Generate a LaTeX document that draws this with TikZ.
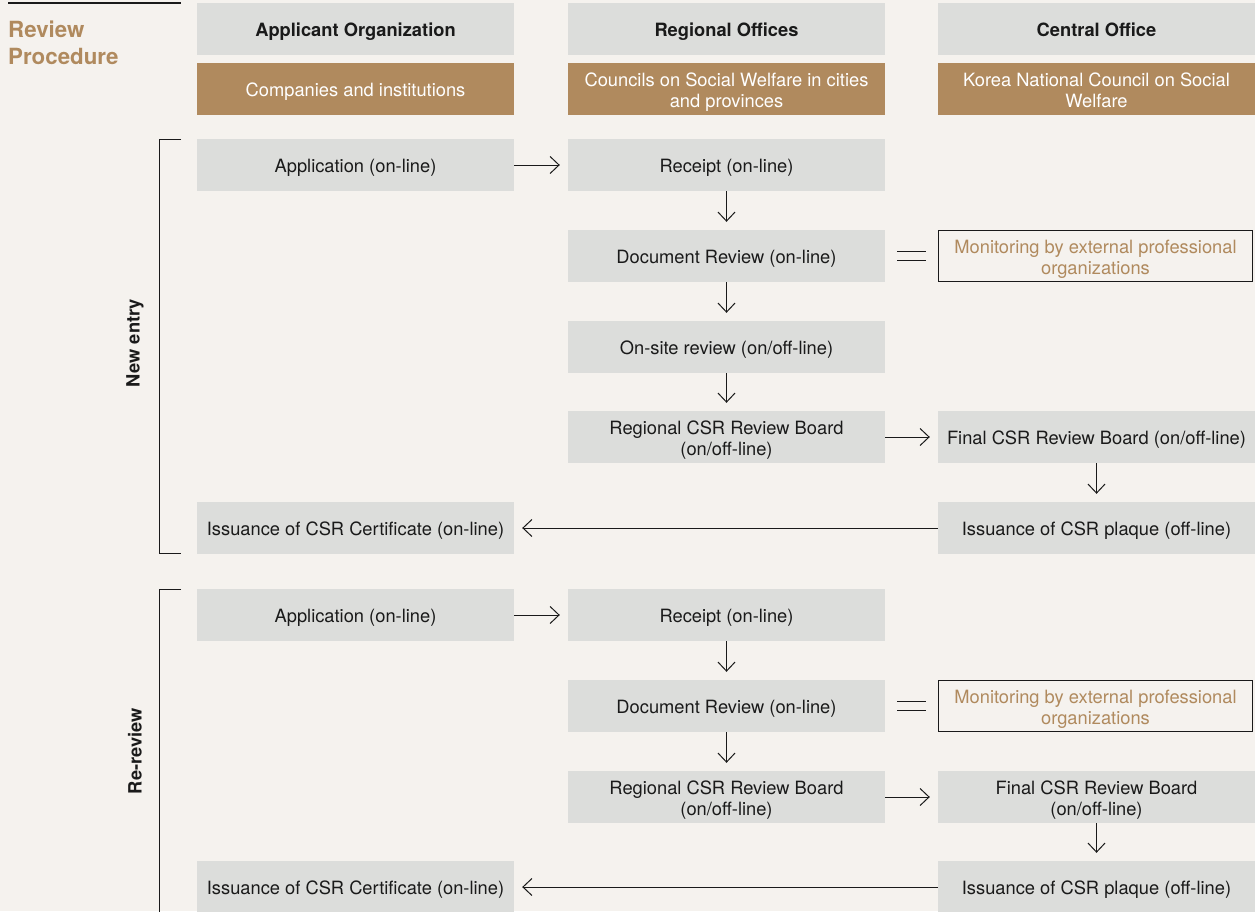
\documentclass[tikz,border=0pt]{standalone}
\usepackage{fontspec}
\setmainfont{TeX Gyre Heros}
\usetikzlibrary{arrows.meta}
\definecolor{bg}{HTML}{F5F2EE}
\definecolor{greybox}{HTML}{DCDDDB}
\definecolor{tanc}{HTML}{B08A5E}
\definecolor{ink}{HTML}{1A1A1A}
\newcommand{\topstrut}{\rule{0pt}{19pt}}
\newcommand{\botstrut}{\rule[-5pt]{0pt}{5pt}}
\begin{document}
\begin{tikzpicture}[x=1pt,y=-1pt,
  boxtext/.style={align=center, font=\fontsize{18.3}{21}\selectfont,
    execute at begin node=\topstrut, execute at end node=\botstrut},
  box/.style={boxtext, fill=greybox, minimum width=317pt, minimum height=52pt, inner sep=0pt, text=ink},
  tanbox/.style={box, fill=tanc, text=white},
  monbox/.style={draw=ink, line width=1.1pt, fill=bg, minimum width=314pt, minimum height=51pt, inner sep=0pt},
  twotext/.style={align=center, font=\fontsize{18.3}{21}\selectfont, inner sep=0pt, text=ink},
  arr/.style={draw=ink, line width=1pt, -{Straight Barb[length=9pt,width=17pt,line width=1pt]}},
  eqline/.style={draw=ink, line width=1pt},
  brk/.style={draw=ink, line width=1.3pt},
  side/.style={rotate=90, font=\fontsize{18.3}{21}\selectfont\bfseries, text=ink},
  titletext/.style={anchor=base west, inner sep=0pt, text=tanc, font=\fontsize{22.3}{27}\selectfont\bfseries}
]
\useasboundingbox (0,0) rectangle (1255,911);
\fill[bg] (0,0) rectangle (1255,911);
\clip (0,0) rectangle (1255,911);

% title
\coordinate (tl0) at (8,3);
\coordinate (tl1) at (181,3);
\draw[draw=ink, line width=1.2pt] (tl0) -- (tl1);
\node[titletext] (title1) at (8,37.5) {Review};
\node[titletext] (title2) at (8,64) {Procedure};

% headers
\node[box] (h1) at (355.5,29) {\bfseries Applicant Organization};
\node[box] (h2) at (726.5,29) {\bfseries Regional Offices};
\node[box] (h3) at (1096.5,29) {\bfseries Central Office};
\node[tanbox] (t1) at (355.5,89) {Companies and institutions};
\node[tanbox] (t2) at (726.5,89) {};
\node[twotext, text=white] (t2t) at ([yshift=-3pt]t2.center) {Councils on Social Welfare in cities\\and provinces};
\node[tanbox] (t3) at (1096.5,89) {};
\node[twotext, text=white] (t3t) at ([yshift=-1pt]t3.center) {Korea National Council on Social\\Welfare};

% new entry
\node[box] (a1) at (355.5,165) {Application (on-line)};
\node[box] (r1) at (726.5,165) {Receipt (on-line)};
\node[box] (d1) at (726.5,256) {Document Review (on-line)};
\node[monbox] (m1) at (1095.5,256) {};
\node[twotext, text=tanc] (m1t) at ([yshift=-3pt]m1.center) {Monitoring by external professional\\organizations};
\node[box] (o1) at (726.5,347) {On-site review (on/off-line)};
\node[box] (g1) at (726.5,437) {};
\node[twotext] (g1t) at ([yshift=-3pt]g1.center) {Regional CSR Review Board\\(on/off-line)};
\node[box] (f1) at (1096.5,437) {Final CSR Review Board (on/off-line)};
\node[box] (p1) at (1096.5,528) {Issuance of CSR plaque (off-line)};
\node[box] (c1) at (355.5,528) {Issuance of CSR Certificate (on-line)};

\draw[arr] (a1.east) -- ([xshift=-8pt]r1.west);
\draw[arr] (r1.south) -- ([yshift=8pt]d1.north);
\draw[arr] (d1.south) -- ([yshift=8pt]o1.north);
\draw[arr] (o1.south) -- ([yshift=8pt]g1.north);
\draw[arr] (g1.east) -- ([xshift=-8pt]f1.west);
\draw[arr] (f1.south) -- ([yshift=8pt]p1.north);
\draw[arr] (p1.west) -- ([xshift=8pt]c1.east);
\draw[eqline] ([xshift=12pt,yshift=4.5pt]d1.east) -- ([xshift=-12pt,yshift=4.5pt]m1.west);
\draw[eqline] ([xshift=12pt,yshift=-4.5pt]d1.east) -- ([xshift=-12pt,yshift=-4.5pt]m1.west);

% re-review
\node[box] (a2) at (355.5,615) {Application (on-line)};
\node[box] (r2) at (726.5,615) {Receipt (on-line)};
\node[box] (d2) at (726.5,706) {Document Review (on-line)};
\node[monbox] (m2) at (1095.5,706) {};
\node[twotext, text=tanc] (m2t) at ([yshift=-3pt]m2.center) {Monitoring by external professional\\organizations};
\node[box] (g2) at (726.5,797) {};
\node[twotext] (g2t) at ([yshift=-3pt]g2.center) {Regional CSR Review Board\\(on/off-line)};
\node[box] (f2) at (1096.5,797) {};
\node[twotext] (f2t) at ([yshift=-3pt]f2.center) {Final CSR Review Board\\(on/off-line)};
\node[box] (p2) at (1096.5,887) {Issuance of CSR plaque (off-line)};
\node[box] (c2) at (355.5,887) {Issuance of CSR Certificate (on-line)};

\draw[arr] (a2.east) -- ([xshift=-8pt]r2.west);
\draw[arr] (r2.south) -- ([yshift=8pt]d2.north);
\draw[arr] (d2.south) -- ([yshift=8pt]g2.north);
\draw[arr] (g2.east) -- ([xshift=-8pt]f2.west);
\draw[arr] (f2.south) -- ([yshift=8pt]p2.north);
\draw[arr] (p2.west) -- ([xshift=8pt]c2.east);
\draw[eqline] ([xshift=12pt,yshift=4.5pt]d2.east) -- ([xshift=-12pt,yshift=4.5pt]m2.west);
\draw[eqline] ([xshift=12pt,yshift=-4.5pt]d2.east) -- ([xshift=-12pt,yshift=-4.5pt]m2.west);

% brackets
\coordinate (b1a) at (181,139.5);
\coordinate (b1b) at (159.5,139.5);
\coordinate (b1c) at (159.5,553.5);
\coordinate (b1d) at (181,553.5);
\draw[brk] (b1a) -- (b1b) -- (b1c) -- (b1d);
\coordinate (b2a) at (181,589.5);
\coordinate (b2b) at (159.5,589.5);
\coordinate (b2c) at (159.5,920);
\draw[brk] (b2a) -- (b2b) -- (b2c);
\node[side] (ne) at (135,343) {New entry};
\node[side] (rr) at (135,751) {Re-review};
\end{tikzpicture}
\end{document}
